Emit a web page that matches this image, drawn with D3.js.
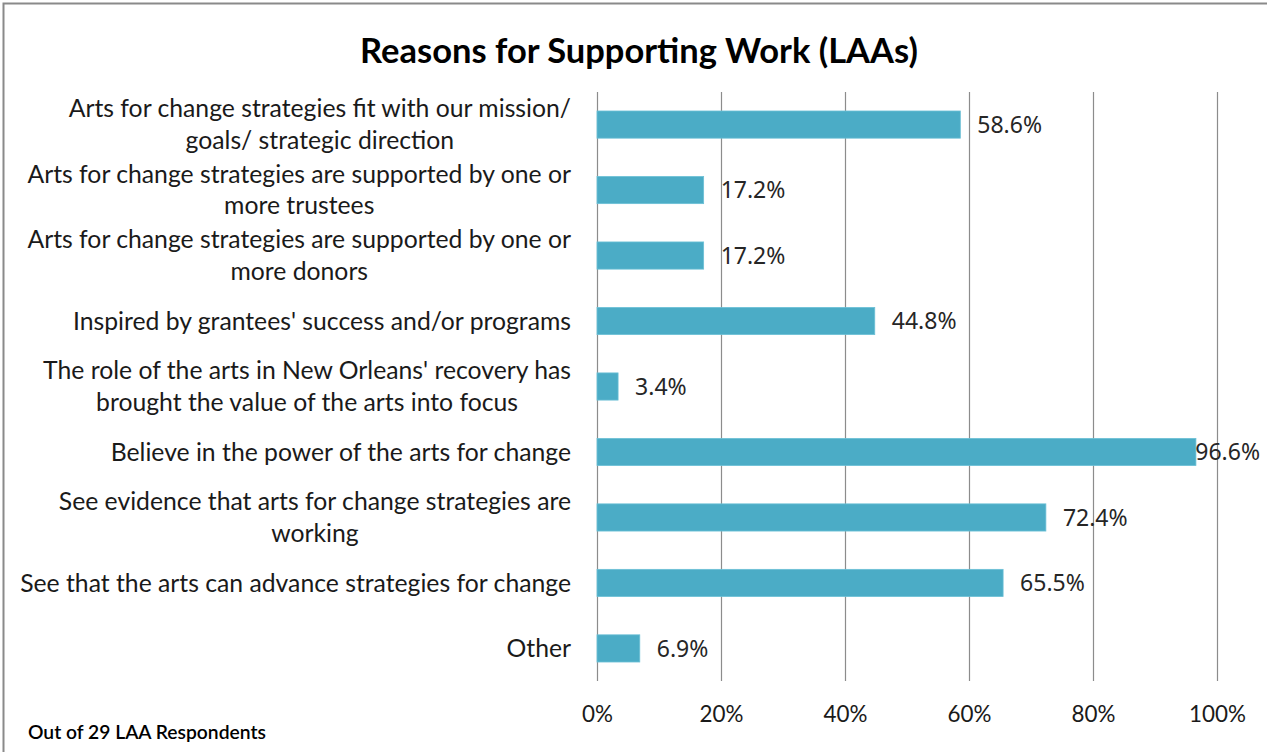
<!DOCTYPE html>
<html>
<head>
<meta charset="utf-8">
<script src="https://cdn.jsdelivr.net/npm/d3@7/dist/d3.min.js"></script>
<style>
  html, body { margin: 0; padding: 0; background: #fff; }
  svg { display: block; }
</style>
</head>
<body>
<svg id="chart" width="1267" height="752"></svg>
<script>
// Survey responses: share of LAA respondents citing each reason
const categories = [
  ["Arts for change strategies fit with our mission/", "goals/ strategic direction"],
  ["Arts for change strategies are supported by one or", "more trustees"],
  ["Arts for change strategies are supported by one or", "more donors"],
  ["Inspired by grantees' success and/or programs"],
  ["The role of the arts in New Orleans' recovery has", "brought the value of the arts into focus"],
  ["Believe in the power of the arts for change"],
  ["See evidence that arts for change strategies are", "working"],
  ["See that the arts can advance strategies for change"],
  ["Other"]
];
const values = [58.6, 17.2, 17.2, 44.8, 3.4, 96.6, 72.4, 65.5, 6.9];
const tickValues = [0, 20, 40, 60, 80, 100];
const titleText = "Reasons for Supporting Work (LAAs)";
const noteText = "Out of 29 LAA Respondents";

const svg = d3.select("#chart");
const W = 1267, H = 752;
const plot = { left: 597, right: 1217, top: 92, bottom: 681 };
const labelFont = "Lato, 'Open Sans', sans-serif";
const valueFont = "'Noto Sans', 'Open Sans', sans-serif";

// Chart frame
svg.append("rect")
  .attr("x", 3.5).attr("y", 3.5)
  .attr("width", W + 10).attr("height", H + 10)
  .attr("fill", "#fff").attr("stroke", "#8a8a8a").attr("stroke-width", 2);

const x = d3.scaleLinear().domain([0, 100]).range([plot.left, plot.right]);
const y = d3.scaleBand().domain(d3.range(categories.length))
  .range([plot.top, plot.bottom]).paddingInner(0.585).paddingOuter(0.29);

// Shrink or grow a text node so its width matches a target
function fitSize(sel, base, target) {
  sel.attr("font-size", base);
  const w = sel.node().getComputedTextLength();
  return base * target / w;
}

// Title
const title = svg.append("text")
  .attr("x", 639).attr("y", 63)
  .attr("text-anchor", "middle")
  .attr("font-family", labelFont).attr("font-weight", 700)
  .attr("fill", "#000").text(titleText);
title.attr("font-size", fitSize(title, 30, 558));

// Vertical gridlines and x-axis labels
const tickProbe = svg.append("text").attr("font-family", labelFont).text("100%");
const tickSize = fitSize(tickProbe, 20, 57);
tickProbe.remove();
const xAxis = d3.axisBottom(x).tickValues(tickValues)
  .tickSize(-(plot.bottom - plot.top)).tickPadding(25)
  .tickFormat(d => d + "%");
const gx = svg.append("g").attr("transform", `translate(0,${plot.bottom})`).call(xAxis);
gx.select(".domain").remove();
gx.selectAll(".tick line").attr("stroke", "#8c8c8c").attr("stroke-width", 1.2);
gx.selectAll(".tick text")
  .attr("font-family", labelFont).attr("font-size", tickSize)
  .attr("fill", "#1a1a1a").attr("dy", "0.71em");

// Bars
svg.append("g").selectAll("rect").data(values).join("rect")
  .attr("x", x(0))
  .attr("y", (d, i) => y(i))
  .attr("width", d => x(d) - x(0))
  .attr("height", y.bandwidth())
  .attr("fill", "#4BACC6")
  .attr("stroke", "#6cc0d6").attr("stroke-width", 0.8);

// Category labels: lines centred within a block that is right-aligned to the axis
const labelRight = 571;
const probe = svg.append("text").attr("font-family", labelFont)
  .text("See that the arts can advance strategies for change");
const labelSize = fitSize(probe, 20, 551);
probe.remove();
const lineH = 31.5;
const gl = svg.append("g").attr("font-family", labelFont)
  .attr("font-size", labelSize).attr("fill", "#1a1a1a");
categories.forEach((lines, i) => {
  const t = gl.append("text").attr("text-anchor", "middle");
  const cy = y(i) + y.bandwidth() / 2;
  const spans = lines.map((ln, k) => t.append("tspan")
    .attr("y", cy + (k - (lines.length - 1) / 2) * lineH)
    .attr("dy", "0.35em").text(ln));
  const maxW = d3.max(spans, s => s.node().getComputedTextLength());
  spans.forEach(s => s.attr("x", labelRight - maxW / 2));
});

// Value labels
const gv = svg.append("g").attr("font-family", valueFont)
  .attr("font-size", 23).attr("fill", "#262626");
values.forEach((v, i) => {
  const t = gv.append("text")
    .attr("y", y(i) + y.bandwidth() / 2).attr("dy", "0.36em")
    .text(v.toFixed(1) + "%");
  const w = t.node().getComputedTextLength();
  const edge = 1260;
  let tx = x(v) + 17;
  if (tx + w > edge) tx = Math.max(x(v) - 2, edge - w);
  t.attr("x", tx);
});

// Footnote
const note = svg.append("text")
  .attr("x", 28).attr("y", 739)
  .attr("font-family", labelFont).attr("font-weight", 600)
  .attr("fill", "#000").text(noteText);
note.attr("font-size", fitSize(note, 16, 238));
</script>
</body>
</html>
